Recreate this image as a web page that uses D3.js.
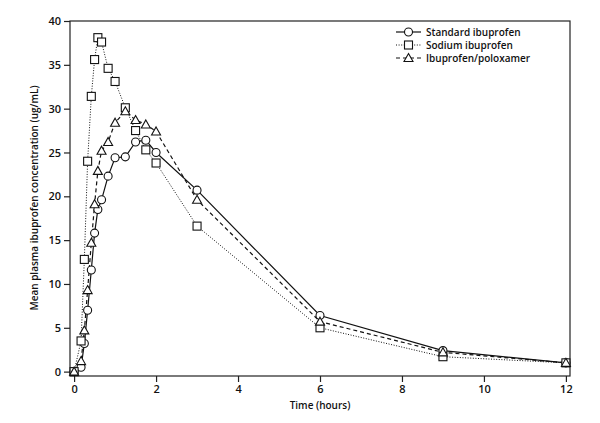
<!DOCTYPE html>
<html>
<head>
<meta charset="utf-8">
<script src="https://cdn.jsdelivr.net/npm/d3@7"></script>
<style>
  body { margin: 0; background: #fff; }
  text { font-family: "Open Sans", "DejaVu Sans", sans-serif; font-weight: 600; fill: #111; }
</style>
</head>
<body>
<svg width="600" height="423"></svg>
<script>
const svg = d3.select('svg');

// sampling times (hours)
const times = [0, 0.17, 0.25, 0.33, 0.42, 0.5, 0.58, 0.67, 0.83, 1, 1.25, 1.5, 1.75, 2, 3, 6, 9, 12];

const standardValues = [0, 0.5, 3.2, 7.0, 11.6, 15.8, 18.5, 19.6, 22.3, 24.4, 24.5, 26.2, 26.4, 25.0, 20.7, 6.4, 2.4, 1.0];
const sodiumValues = [0, 3.5, 12.8, 24.0, 31.4, 35.6, 38.1, 37.6, 34.6, 33.1, 30.1, 27.5, 25.3, 23.8, 16.6, 5.0, 1.7, 1.0];
const poloxamerValues = [0, 1.2, 4.7, 9.3, 14.7, 19.1, 22.9, 25.2, 26.2, 28.4, 29.7, 28.7, 28.2, 27.4, 19.6, 5.7, 2.2, 1.0];

const seriesNames = ['Standard ibuprofen', 'Sodium ibuprofen', 'Ibuprofen/poloxamer'];
const xTicks = [0, 2, 4, 6, 8, 10, 12];
const yTicks = [0, 5, 10, 15, 20, 25, 30, 35, 40];

const series = [
  { name: seriesNames[0], values: standardValues, marker: 'circle', dash: null },
  { name: seriesNames[1], values: sodiumValues, marker: 'square', dash: '1,1.6' },
  { name: seriesNames[2], values: poloxamerValues, marker: 'triangle', dash: '4,3' }
];

const plot = { left: 70, right: 570, top: 21, bottom: 376 };

const xScale = d3.scaleLinear().domain([-0.1, 12.1]).range([plot.left, plot.right]);
const yScale = d3.scaleLinear().domain([-0.5, 40]).range([plot.bottom, plot.top]);

// frame
svg.append('rect')
  .attr('x', plot.left).attr('y', plot.top)
  .attr('width', plot.right - plot.left).attr('height', plot.bottom - plot.top)
  .attr('fill', 'none').attr('stroke', '#222').attr('stroke-width', 1.2);

// axes
const xAxis = d3.axisBottom(xScale).tickValues(xTicks).tickSize(6).tickPadding(3);
const xAxisG = svg.append('g')
  .attr('transform', `translate(0, ${plot.bottom})`)
  .call(xAxis);
xAxisG.select('.domain').remove();

const yAxis = d3.axisLeft(yScale).tickValues(yTicks).tickSize(6).tickPadding(3);
const yAxisG = svg.append('g')
  .attr('transform', `translate(${plot.left}, 0)`)
  .call(yAxis);
yAxisG.select('.domain').remove();

svg.selectAll('.tick line').attr('stroke', '#222').attr('stroke-width', 1.2);
svg.selectAll('.tick text').style('font-size', '11px').attr('fill', '#111');

svg.append('text')
  .attr('x', 320).attr('y', 409)
  .attr('text-anchor', 'middle')
  .style('font-size', '10px')
  .text('Time (hours)');

svg.append('text')
  .attr('transform', 'translate(38, 198) rotate(-90)')
  .attr('text-anchor', 'middle')
  .style('font-size', '10px')
  .text('Mean plasma ibuprofen concentration (ug/mL)');

const drawMarker = (g, type, x, y) => {
  if (type === 'circle') {
    g.append('circle').attr('cx', x).attr('cy', y).attr('r', 4)
      .attr('fill', '#fff').attr('stroke', '#111').attr('stroke-width', 1.1);
  } else if (type === 'square') {
    g.append('rect').attr('x', x - 4).attr('y', y - 4).attr('width', 8).attr('height', 8)
      .attr('fill', '#fff').attr('stroke', '#111').attr('stroke-width', 1.1);
  } else {
    g.append('path')
      .attr('d', `M${x},${y - 4.5}L${x + 4.5},${y + 3.5}L${x - 4.5},${y + 3.5}Z`)
      .attr('fill', '#fff').attr('stroke', '#111').attr('stroke-width', 1.1);
  }
};

const line = d3.line()
  .x((d, i) => xScale(times[i]))
  .y(d => yScale(d));

// lines first, markers on top
series.forEach(s => {
  svg.append('path')
    .datum(s.values)
    .attr('d', line)
    .attr('fill', 'none')
    .attr('stroke', '#111')
    .attr('stroke-width', s.dash === '1,1.6' ? 1 : 1.2)
    .attr('stroke-dasharray', s.dash);
});

series.forEach(s => {
  const g = svg.append('g');
  s.values.forEach((v, i) => drawMarker(g, s.marker, xScale(times[i]), yScale(v)));
});

// legend
const legend = svg.append('g').attr('transform', 'translate(396, 32)');
series.forEach((s, i) => {
  const y = i * 13;
  legend.append('line')
    .attr('x1', 0).attr('x2', 25).attr('y1', y).attr('y2', y)
    .attr('stroke', '#111')
    .attr('stroke-width', s.dash === '1,1.6' ? 1 : 1.2)
    .attr('stroke-dasharray', s.dash);
  drawMarker(legend, s.marker, 12.5, y);
  legend.append('text')
    .attr('x', 30).attr('y', y)
    .attr('dy', '0.35em')
    .style('font-size', '10px')
    .text(s.name);
});
</script>
</body>
</html>
